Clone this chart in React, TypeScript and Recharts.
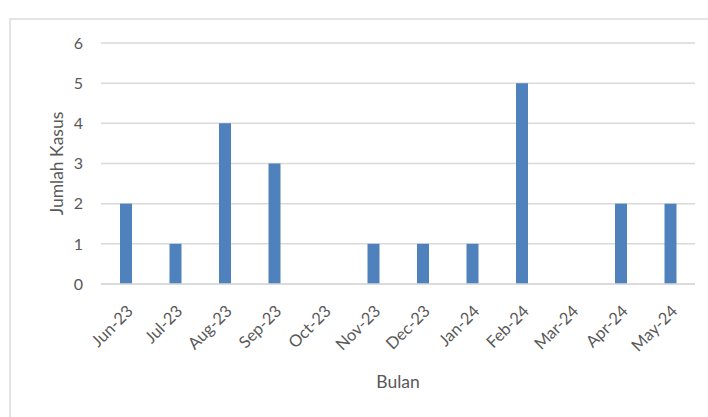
import { BarChart, Bar, XAxis, YAxis, CartesianGrid } from 'recharts'

const months = ['Jun-23', 'Jul-23', 'Aug-23', 'Sep-23', 'Oct-23', 'Nov-23', 'Dec-23', 'Jan-24', 'Feb-24', 'Mar-24', 'Apr-24', 'May-24']
const cases = [2, 1, 4, 3, 0, 1, 1, 1, 5, 0, 2, 2]
const yTicks = [0, 1, 2, 3, 4, 5, 6]

const data = months.map((name, i) => ({ name, value: cases[i] }))

const font = 'Lato, "Open Sans", sans-serif'

export default function App() {
  return (
    <div style={{ position: 'absolute', left: 0, top: 0, width: 708, height: 417, background: '#fff', overflow: 'hidden' }}>
      <div
        style={{
          position: 'absolute',
          left: 9,
          top: 18,
          width: 760,
          height: 460,
          border: '2px solid #e4e4e4',
        }}
      />
      <div style={{ position: 'absolute', left: 0, top: 0 }}>
        <BarChart width={708} height={417} data={data} margin={{ top: 43, right: 13, bottom: 29, left: 0 }}>
          <CartesianGrid vertical={false} stroke="#d9d9d9" strokeWidth={1.5} />
          <XAxis
            dataKey="name"
            height={104}
            interval={0}
            angle={-45}
            textAnchor="end"
            axisLine={{ stroke: '#d9d9d9', strokeWidth: 1.5 }}
            tickLine={false}
            tickMargin={14}
            tick={{ fontSize: 16.5, fill: '#595959', fontFamily: font }}
            label={{ value: 'Bulan', position: 'insideBottom', offset: 0, fontSize: 17.5, fill: '#595959', fontFamily: font }}
          />
          <YAxis
            width={101}
            domain={[0, 6]}
            ticks={yTicks}
            axisLine={false}
            tickLine={false}
            tickMargin={12}
            tick={{ fontSize: 16, fill: '#595959', fontFamily: font }}
            label={{
              value: 'Jumlah Kasus',
              angle: -90,
              position: 'insideLeft',
              offset: 57,
              fontSize: 17.5,
              fill: '#595959',
              fontFamily: font,
              style: { textAnchor: 'middle' },
            }}
          />
          <Bar dataKey="value" fill="#4f81bd" barSize={12} isAnimationActive={false} />
        </BarChart>
      </div>
    </div>
  )
}
